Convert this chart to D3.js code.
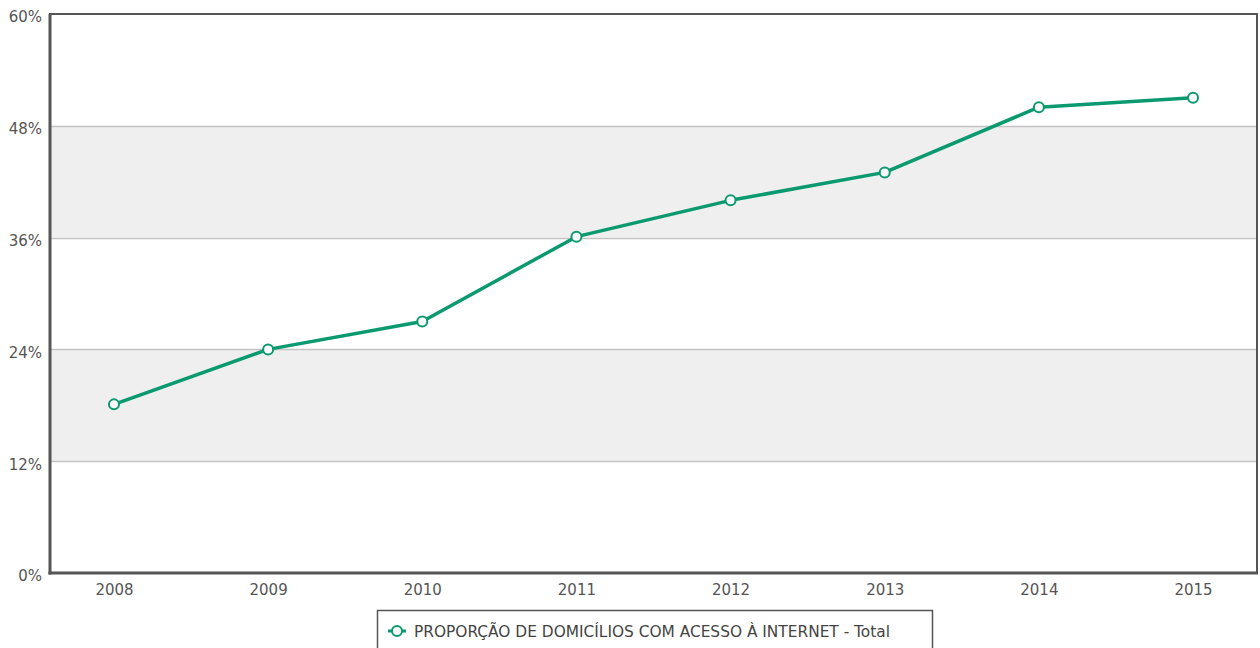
<!DOCTYPE html>
<html>
<head>
<meta charset="utf-8">
<script src="https://cdn.jsdelivr.net/npm/d3@7"></script>
<style>
  html, body { margin: 0; padding: 0; background: #fff; }
  svg { display: block; }
  text { font-family: "DejaVu Sans", sans-serif; }
</style>
</head>
<body>
<svg id="chart" width="1260" height="648"></svg>
<script>
// Share of households with internet access, total
const years = ["2008", "2009", "2010", "2011", "2012", "2013", "2014", "2015"];
const values = [18.1, 24.0, 27.0, 36.1, 40.0, 43.0, 50.0, 51.0];
const yTicks = [0, 12, 24, 36, 48, 60];
const seriesName = "PROPORÇÃO DE DOMICÍLIOS COM ACESSO À INTERNET - Total";

const plot = { left: 50, top: 14, right: 1257, bottom: 573 };
const green = "#0b9a70";
const labelColor = "#555";

const svg = d3.select("#chart");

const x = d3.scalePoint().domain(years).range([plot.left, plot.right]).padding(0.415);
const y = d3.scaleLinear().domain([0, 60]).range([plot.bottom, plot.top]);

// Alternating horizontal bands
const bands = d3.pairs(yTicks).filter((d, i) => i % 2 === 1);
svg.append("g").selectAll("rect").data(bands).join("rect")
  .attr("x", plot.left)
  .attr("width", plot.right - plot.left)
  .attr("y", d => y(d[1]))
  .attr("height", d => y(d[0]) - y(d[1]))
  .attr("fill", "#efefef");

// Grid lines
svg.append("g").selectAll("line").data(yTicks.slice(1, -1)).join("line")
  .attr("x1", plot.left).attr("x2", plot.right)
  .attr("y1", d => Math.round(y(d)) + 0.5).attr("y2", d => Math.round(y(d)) + 0.5)
  .attr("stroke", "#c4c4c4").attr("stroke-width", 1.5);

// Frame
svg.append("rect")
  .attr("x", plot.left).attr("y", plot.top)
  .attr("width", plot.right - plot.left).attr("height", plot.bottom - plot.top)
  .attr("fill", "none").attr("stroke", "#555").attr("stroke-width", 2);
svg.append("line")
  .attr("x1", plot.left).attr("x2", plot.left)
  .attr("y1", plot.top).attr("y2", plot.bottom + 1.5)
  .attr("stroke", "#555").attr("stroke-width", 3);
svg.append("line")
  .attr("x1", plot.left - 1.5).attr("x2", plot.right + 1)
  .attr("y1", plot.bottom).attr("y2", plot.bottom)
  .attr("stroke", "#555").attr("stroke-width", 3);

// Y axis labels
const yAxis = d3.axisLeft(y).tickValues(yTicks).tickSize(0).tickPadding(8)
  .tickFormat(d => d + "%");
svg.append("g").attr("transform", `translate(${plot.left},3)`).call(yAxis)
  .call(g => g.select(".domain").remove())
  .call(g => g.selectAll("text")
    .attr("fill", labelColor).attr("font-size", "15px")
    .attr("font-family", "'DejaVu Sans', sans-serif"));

// X axis labels
const xAxis = d3.axisBottom(x).tickSize(0).tickPadding(11);
svg.append("g").attr("transform", `translate(0,${plot.bottom})`).call(xAxis)
  .call(g => g.select(".domain").remove())
  .call(g => g.selectAll("text")
    .attr("fill", labelColor).attr("font-size", "15px")
    .attr("font-family", "'DejaVu Sans', sans-serif"));

// Series line
const data = years.map((yr, i) => ({ year: yr, value: values[i] }));
const line = d3.line().x(d => x(d.year)).y(d => y(d.value));
svg.append("path").datum(data)
  .attr("d", line)
  .attr("fill", "none").attr("stroke", green)
  .attr("stroke-width", 3.5).attr("stroke-linejoin", "round");

svg.append("g").selectAll("circle").data(data).join("circle")
  .attr("cx", d => x(d.year)).attr("cy", d => y(d.value))
  .attr("r", 5)
  .attr("fill", "#fff").attr("stroke", green).attr("stroke-width", 2);

// Legend
const legend = svg.append("g");
legend.append("rect")
  .attr("x", 377.5).attr("y", 610.5).attr("width", 555).attr("height", 50)
  .attr("fill", "#fff").attr("stroke", "#555").attr("stroke-width", 1.5);
legend.append("line")
  .attr("x1", 388).attr("x2", 406).attr("y1", 631).attr("y2", 631)
  .attr("stroke", green).attr("stroke-width", 3);
legend.append("circle")
  .attr("cx", 397).attr("cy", 631).attr("r", 5)
  .attr("fill", "#fff").attr("stroke", green).attr("stroke-width", 2);
legend.append("text")
  .attr("x", 414).attr("y", 636.5)
  .attr("fill", "#444").attr("font-size", "15.4px")
  .attr("textLength", 476).attr("lengthAdjust", "spacingAndGlyphs")
  .text(seriesName);
</script>
</body>
</html>
